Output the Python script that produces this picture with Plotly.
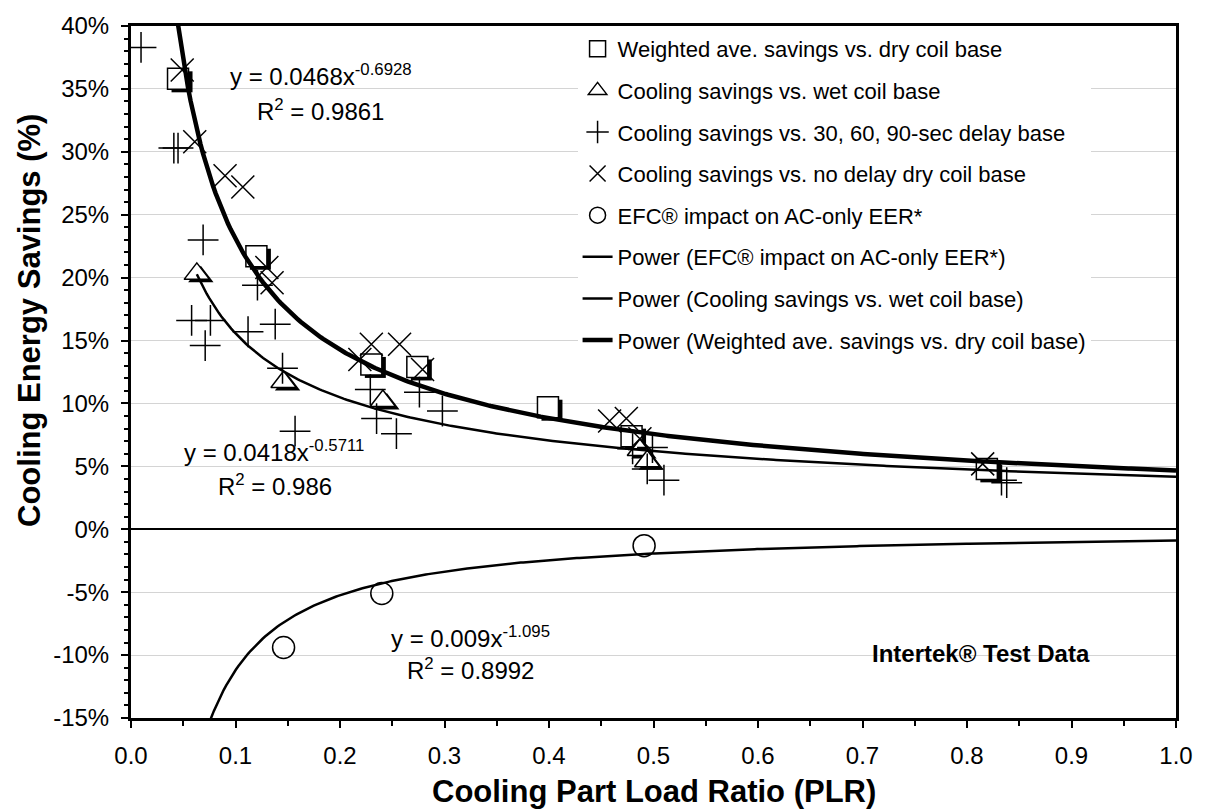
import numpy as np
import plotly.graph_objects as go

# ---------------- data ----------------
SQ_X = [0.045, 0.120, 0.230, 0.274, 0.399, 0.479, 0.819]
SQ_Y = [35.8, 21.7, 13.1, 12.9, 9.7, 7.4, 4.8]

TRI_X = [0.063, 0.146, 0.241, 0.487, 0.494]
TRI_Y = [20.3, 11.7, 10.2, 6.3, 5.4]

PLUS_X = [0.0096, 0.041, 0.045, 0.069, 0.058, 0.076, 0.071, 0.112, 0.138, 0.145,
          0.157, 0.121, 0.229, 0.235, 0.254, 0.276, 0.298, 0.480, 0.499, 0.494,
          0.510, 0.833, 0.838]
PLUS_Y = [38.3, 30.3, 30.3, 23.0, 16.6, 16.6, 14.6, 15.7, 16.3, 12.8,
          7.8, 19.4, 11.1, 8.8, 7.6, 10.9, 9.4, 6.4, 6.5, 4.8,
          3.9, 3.9, 3.7]

X_X = [0.049, 0.061, 0.090, 0.107, 0.130, 0.135, 0.219, 0.230, 0.257, 0.279,
       0.458, 0.474, 0.487, 0.815]
X_Y = [36.5, 30.8, 28.1, 27.2, 20.8, 19.6, 13.5, 14.7, 14.7, 12.7,
       8.6, 8.8, 7.2, 5.2]

CIR_X = [0.146, 0.240, 0.491]
CIR_Y = [-9.4, -5.1, -1.3]

# power trendlines y = a * x^b (as printed on the chart)
FIT_W = (0.0468, -0.6928, 0.045)    # weighted ave. vs dry coil: a, b, start x
FIT_WET = (0.0418, -0.5711, 0.063)  # cooling savings vs wet coil
FIT_EFC = (-0.009, -1.095, 0.070)   # EFC impact (negative)

X_TICK_VALS = [0.0, 0.1, 0.2, 0.3, 0.4, 0.5, 0.6, 0.7, 0.8, 0.9, 1.0]
X_TICK_TEXT = ["0.0", "0.1", "0.2", "0.3", "0.4", "0.5", "0.6", "0.7", "0.8", "0.9", "1.0"]
Y_TICK_VALS = [-15, -10, -5, 0, 5, 10, 15, 20, 25, 30, 35, 40]
Y_TICK_TEXT = ["-15%", "-10%", "-5%", "0%", "5%", "10%", "15%", "20%", "25%", "30%", "35%", "40%"]

NAMES = ["Weighted ave. savings vs. dry coil base",
         "Cooling savings vs. wet coil base",
         "Cooling savings vs. 30, 60, 90-sec delay base",
         "Cooling savings vs. no delay dry coil base",
         "EFC® impact on AC-only EER*",
         "Power (EFC® impact on AC-only EER*)",
         "Power (Cooling savings vs. wet coil base)",
         "Power (Weighted ave. savings vs. dry coil base)"]

# ---------------- layout geometry ----------------
W, H = 1205, 812
ML, MR, MT, MB = 131, 28, 21, 94
PW, PH = W - ML - MR, H - MT - MB
SX, SY = 4, 3  # shadow offset in px
FONT = "Liberation Sans, Arial, sans-serif"
FS = 24
LFS = 22


def pxx(p):
    return (p - ML) / PW


def pxy(p):
    return 1 - (p - MT) / PH


def curve(params, n=400):
    a, b, x0 = params
    xs = np.linspace(x0, 1.0, n)
    return xs, 100 * a * xs ** b


fig = go.Figure()

# shadows (drawn on a subplot shifted by a few pixels)
fig.add_trace(go.Scatter(x=SQ_X, y=SQ_Y, mode="markers", xaxis="x2", yaxis="y2",
                         marker=dict(symbol="square", size=21, color="black",
                                     line=dict(width=0)),
                         showlegend=False, hoverinfo="skip"))
fig.add_trace(go.Scatter(x=TRI_X, y=TRI_Y, mode="markers", xaxis="x2", yaxis="y2",
                         marker=dict(symbol="triangle-up", size=22, color="black",
                                     line=dict(width=0)),
                         showlegend=False, hoverinfo="skip"))

mk_line = dict(color="black", width=1.5)
fig.add_trace(go.Scatter(x=SQ_X, y=SQ_Y, mode="markers", name=NAMES[0], legendgroup="g0",
                         xaxis="x3", yaxis="y3",
                         marker=dict(symbol="square", size=21, color="white", line=mk_line)))
fig.add_trace(go.Scatter(x=TRI_X, y=TRI_Y, mode="markers", name=NAMES[1], legendgroup="g1",
                         xaxis="x3", yaxis="y3",
                         marker=dict(symbol="triangle-up", size=22, color="white", line=mk_line)))
fig.add_trace(go.Scatter(x=PLUS_X, y=PLUS_Y, mode="markers", name=NAMES[2], legendgroup="g2",
                         xaxis="x3", yaxis="y3",
                         marker=dict(symbol="cross-thin-open", size=22, color="black", line=mk_line)))
fig.add_trace(go.Scatter(x=X_X, y=X_Y, mode="markers", name=NAMES[3], legendgroup="g3",
                         xaxis="x3", yaxis="y3",
                         marker=dict(symbol="x-thin-open", size=23, color="black", line=mk_line)))
# circles live on the main axes (they have no shadow)
fig.add_trace(go.Scatter(x=CIR_X, y=CIR_Y, mode="markers", name=NAMES[4], legendgroup="g4",
                         xaxis="x", yaxis="y",
                         marker=dict(symbol="circle-open", size=22, color="black", line=mk_line)))

for i, (params, lw) in enumerate([(FIT_EFC, 2.5), (FIT_WET, 2.5), (FIT_W, 4.5)]):
    cx, cy = curve(params)
    fig.add_trace(go.Scatter(x=cx, y=cy, mode="lines", name=NAMES[5 + i],
                             legendgroup="g%d" % (5 + i), xaxis="x3", yaxis="y3",
                             line=dict(color="black", width=lw), hoverinfo="skip"))

axis_common = dict(showline=True, linewidth=3, linecolor="black", mirror=True,
                   ticks="outside", ticklen=7, tickwidth=1.5, tickcolor="black",
                   tickfont=dict(family=FONT, size=FS, color="black"))

fig.update_layout(
    width=W, height=H,
    margin=dict(l=ML, r=MR, t=MT, b=MB),
    paper_bgcolor="white", plot_bgcolor="rgba(0,0,0,0)",
    font=dict(family=FONT, size=FS, color="black"),
    xaxis=dict(range=[0, 1], domain=[0, 1], anchor="y",
               tickvals=X_TICK_VALS, ticktext=X_TICK_TEXT,
               showgrid=False, zeroline=False, ticklabelstandoff=7,
               minor=dict(dtick=0.05, tick0=0, ticks="outside", ticklen=5,
                          tickwidth=1.5, tickcolor="black", showgrid=False),
               **axis_common),
    yaxis=dict(range=[-15, 40], domain=[0, 1], anchor="x",
               tickvals=Y_TICK_VALS, ticktext=Y_TICK_TEXT,
               showgrid=True, gridcolor="#d4d4d4", gridwidth=1,
               zeroline=True, zerolinecolor="black", zerolinewidth=1.5,
               ticklabelstandoff=7,
               minor=dict(dtick=1, tick0=0, ticks="outside", ticklen=4,
                          tickwidth=1.5, tickcolor="black", showgrid=False),
               **axis_common),
    xaxis2=dict(domain=[SX / PW, 1], range=[0, 1 - SX / PW], anchor="y2", visible=False),
    yaxis2=dict(domain=[0, 1 - SY / PH], range=[40 - 55 * (1 - SY / PH), 40],
                anchor="x2", visible=False),
    xaxis3=dict(domain=[0, 1], range=[0, 1], anchor="y3", visible=False),
    yaxis3=dict(domain=[0, 1], range=[-15, 40], anchor="x3", visible=False),
    legend=dict(x=pxx(578), y=pxy(23), xanchor="left", yanchor="top",
                bgcolor="white", borderwidth=0, traceorder="grouped",
                tracegroupgap=10, font=dict(family=FONT, size=LFS, color="black")),
    showlegend=True,
)

# white legend box area (hides gridlines behind legend)
fig.add_shape(type="rect", xref="paper", yref="paper", layer="between",
              x0=pxx(555), x1=pxx(1166), y0=pxy(358), y1=pxy(23),
              fillcolor="white", line=dict(width=0))

ann = [
    ("y = 0.0468x<sup>-0.6928</sup>", 228, 70, "left", FS),
    ("R<sup>2</sup> = 0.9861", 255, 106, "left", FS),
    ("y = 0.0418x<sup>-0.5711</sup>", 182, 449, "left", FS),
    ("R<sup>2</sup> = 0.986", 216, 483, "left", FS),
    ("y = 0.009x<sup>-1.095</sup>", 389, 636, "left", FS),
    ("R<sup>2</sup> = 0.8992", 405, 669, "left", FS),
    ("<b>Intertek® Test Data</b>", 1093, 653, "right", 24),
]
for text, x, y, xa, fs in ann:
    fig.add_annotation(text=text, xref="paper", yref="paper", x=pxx(x), y=pxy(y),
                       xanchor=xa, yanchor="middle", showarrow=False,
                       font=dict(family=FONT, size=fs, color="black"))

fig.add_annotation(text="<b>Cooling Part Load Ratio (PLR)</b>", xref="paper", yref="paper",
                   x=pxx(654), y=pxy(792), xanchor="center", yanchor="middle",
                   showarrow=False, font=dict(family=FONT, size=31, color="black"))
fig.add_annotation(text="<b>Cooling Energy Savings (%)</b>", xref="paper", yref="paper",
                   x=pxx(30), y=pxy(318), xanchor="center", yanchor="middle", textangle=-90,
                   showarrow=False, font=dict(family=FONT, size=31, color="black"))

fig.write_html("out.html")
